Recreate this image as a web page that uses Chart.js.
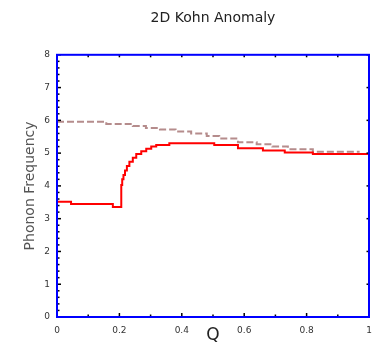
<!DOCTYPE html>
<html>
<head>
<meta charset="utf-8">
<script src="https://cdn.jsdelivr.net/npm/chart.js@4"></script>
<style>
  html, body { margin: 0; padding: 0; background: #fff; }
  #wrap { width: 372px; height: 344px; }
</style>
</head>
<body>
<div id="wrap"><canvas id="kohn"></canvas></div>
<script>
// 2D Kohn anomaly: phonon frequency vs Q
const qRed = [0, 0.045, 0.179, 0.206, 0.209, 0.213, 0.218, 0.224, 0.232, 0.243, 0.254,
  0.27, 0.286, 0.302, 0.318, 0.36, 0.504, 0.58, 0.66, 0.73, 0.82, 1.0];
const fRed = [3.52, 3.45, 3.36, 4.03, 4.2, 4.33, 4.47, 4.61, 4.74, 4.86, 4.97,
  5.06, 5.13, 5.2, 5.25, 5.3, 5.25, 5.15, 5.08, 5.02, 4.97, 4.97];

const qDash = [0, 0.158, 0.243, 0.285, 0.33, 0.38, 0.43, 0.48, 0.52, 0.58, 0.64, 0.69, 0.74, 0.82, 0.97];
const fDash = [5.96, 5.89, 5.83, 5.77, 5.72, 5.66, 5.6, 5.52, 5.45, 5.33, 5.27, 5.2, 5.12, 5.04, 5.04];

// tick positions
const xMajor = [0, 0.2, 0.4, 0.6, 0.8, 1];
const xMinor = [0.1, 0.3, 0.5, 0.7, 0.9];
const yMajor = [0, 1, 2, 3, 4, 5, 6, 7, 8];
const yMinor = [0.2, 0.4, 0.6, 0.8];

const toPts = (xs, ys) => xs.map((x, i) => ({ x, y: ys[i] }));

// 青い枠と内向きの目盛りを描く
const frameTicks = {
  id: 'frameTicks',
  afterDraw(chart) {
    const { ctx, chartArea: a, scales: { x, y } } = chart;
    ctx.save();
    ctx.strokeStyle = '#000';
    ctx.lineWidth = 1.5;
    const line = (x1, y1, x2, y2) => {
      ctx.beginPath(); ctx.moveTo(x1, y1); ctx.lineTo(x2, y2); ctx.stroke();
    };
    // bottom: majors + minors, top: every 0.1
    xMajor.forEach(v => {
      const px = x.getPixelForValue(v);
      line(px, a.bottom, px, a.bottom - 4);
      line(px, a.top, px, a.top + 2.5);
    });
    xMinor.forEach(v => {
      const px = x.getPixelForValue(v);
      line(px, a.bottom, px, a.bottom - 2.5);
      line(px, a.top, px, a.top + 2.5);
    });
    // left: majors + minors, right: majors only
    yMajor.forEach(v => {
      const py = y.getPixelForValue(v);
      line(a.left, py, a.left + 4, py);
      line(a.right, py, a.right - 2.5, py);
      if (v < 8) {
        yMinor.forEach(m => {
          const pm = y.getPixelForValue(v + m);
          line(a.left, pm, a.left + 2.5, pm);
        });
      }
    });
    ctx.strokeStyle = '#0000ff';
    ctx.lineWidth = 2;
    ctx.strokeRect(a.left, a.top, a.right - a.left, a.bottom - a.top);
    ctx.restore();
  },
};

new Chart(document.getElementById('kohn'), {
  type: 'line',
  data: {
    datasets: [
      {
        label: 'Kohn',
        data: toPts(qRed, fRed),
        borderColor: '#ff0000',
        borderWidth: 2,
        pointRadius: 0,
        stepped: 'before',
        fill: false,
      },
      {
        label: 'bare',
        data: toPts(qDash, fDash),
        borderColor: '#b58c8c',
        borderWidth: 2,
        borderDash: [7, 3],
        pointRadius: 0,
        stepped: 'before',
        fill: false,
      },
    ],
  },
  options: {
    responsive: true,
    maintainAspectRatio: false,
    animation: false,
    layout: { padding: { left: 23, right: 3, top: 0, bottom: 0 } },
    scales: {
      x: {
        type: 'linear',
        min: 0,
        max: 1,
        grid: { display: false, drawTicks: false },
        border: { display: false },
        ticks: {
          stepSize: 0.2,
          padding: 8,
          color: '#333',
          font: { family: 'DejaVu Sans', size: 9 },
          maxRotation: 0,
          callback: v => String(+v.toFixed(1)),
        },
        title: {
          display: true,
          text: 'Q',
          color: '#222',
          padding: 0,
          font: { family: 'DejaVu Sans', size: 17, lineHeight: 1 },
        },
        afterFit: s => {
          s.height = 27;
          s.paddingLeft = 0;
          s.paddingRight = 0;
        },
      },
      y: {
        min: 0,
        max: 8,
        grid: { display: false, drawTicks: false },
        border: { display: false },
        ticks: {
          stepSize: 1,
          padding: 7,
          color: '#333',
          font: { family: 'DejaVu Sans', size: 9 },
        },
        title: {
          display: true,
          text: 'Phonon Frequency',
          color: '#555',
          padding: 0,
          font: { family: 'DejaVu Sans', size: 14, lineHeight: 1 },
        },
        afterFit: s => { s.width = 34; },
      },
    },
    plugins: {
      legend: { display: false },
      tooltip: { enabled: false },
      title: {
        display: true,
        text: '2D Kohn Anomaly',
        color: '#222',
        fullSize: false,
        font: { family: 'DejaVu Sans', size: 14, weight: 'normal', lineHeight: 1.2 },
        padding: { top: 10, bottom: 28 },
      },
    },
  },
  plugins: [frameTicks],
});
</script>
</body>
</html>
